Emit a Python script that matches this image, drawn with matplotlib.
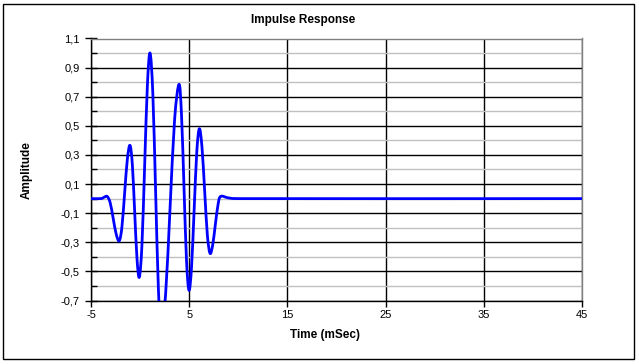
import numpy as np
import matplotlib
matplotlib.use('Agg')
import matplotlib.pyplot as plt
from matplotlib.ticker import FixedLocator
from matplotlib.patches import Rectangle, PathPatch
from matplotlib.path import Path

plt.rcParams['font.family'] = ['Liberation Sans', 'DejaVu Sans']
plt.rcParams['axes.unicode_minus'] = False

# impulse response (time in ms, amplitude)
time_ms = [-5.0, -4.0, -3.7, -3.35, -3.04, -2.735, -2.43, -2.12,
           -1.85, -1.575, -1.30, -1.03, -0.79, -0.555, -0.32, -0.08,
           0.19, 0.465, 0.74, 1.01, 1.295, 1.58, 1.865, 2.15,
           2.60, 3.055, 3.51, 3.96, 4.215, 4.47, 4.725, 4.98,
           5.24, 5.505, 5.77, 6.03, 6.30, 6.575, 6.85, 7.12,
           7.39, 7.66, 7.93, 8.2, 9.0, 10.0, 45.0]
amplitude = [0.0, 0.0, 0.008, 0.015, -0.030, -0.138, -0.245, -0.29,
             -0.194, 0.038, 0.270, 0.366, 0.234, -0.087, -0.408, -0.54,
             -0.315, 0.23, 0.775, 1.0, 0.723, 0.05, -0.623, -0.9,
             -0.654, -0.058, 0.539, 0.785, 0.578, 0.078, -0.423, -0.63,
             -0.468, -0.075, 0.318, 0.48, 0.355, 0.052, -0.251, -0.376,
             -0.319, -0.18, -0.044, 0.015, 0.005, 0.0, 0.0]

y_ticks = [1.1, 0.9, 0.7, 0.5, 0.3, 0.1, -0.1, -0.3, -0.5, -0.7]
y_labels = ['1,1', '0,9', '0,7', '0,5', '0,3', '0,1', '-0,1', '-0,3', '-0,5', '-0,7']
y_minor = [1.0, 0.8, 0.6, 0.4, 0.2, 0.0, -0.2, -0.4, -0.6]
x_ticks = [-5, 5, 15, 25, 35, 45]


def smooth_path(x, y, tension=1/6):
    # smoothed line like a spreadsheet chart: Bezier segments through the points
    x = np.asarray(x, float)
    y = np.asarray(y, float)
    verts = [(x[0], y[0])]
    codes = [Path.MOVETO]
    n = len(x)
    for i in range(n - 1):
        i0 = max(i - 1, 0)
        i3 = min(i + 2, n - 1)
        c1 = (x[i] + (x[i + 1] - x[i0]) * tension, y[i] + (y[i + 1] - y[i0]) * tension)
        c2 = (x[i + 1] - (x[i3] - x[i]) * tension, y[i + 1] - (y[i3] - y[i]) * tension)
        # keep control points inside the segment's time span
        c1 = (min(max(c1[0], x[i]), x[i + 1]), c1[1])
        c2 = (min(max(c2[0], x[i]), x[i + 1]), c2[1])
        verts += [c1, c2, (x[i + 1], y[i + 1])]
        codes += [Path.CURVE4] * 3
    return Path(verts, codes)


fig = plt.figure(figsize=(6.39, 3.64), dpi=100)
ax = fig.add_axes([91/639, 1-300.5/364, 491/639, 262/364])

ax.set_xlim(-5, 45)
ax.set_ylim(-0.7, 1.1)

ax.yaxis.set_major_locator(FixedLocator(y_ticks))
ax.set_yticklabels(y_labels)
ax.yaxis.set_minor_locator(FixedLocator(y_minor))
ax.set_xticks(x_ticks)

ax.grid(which='major', axis='y', color='black', linewidth=1.0)
ax.grid(which='minor', axis='y', color='#c0c0c0', linewidth=1.0)
ax.grid(which='major', axis='x', color='black', linewidth=1.0)
ax.set_axisbelow(True)

ax.add_patch(PathPatch(smooth_path(time_ms, amplitude), facecolor='none',
                       edgecolor='#0000ff', linewidth=2.0, capstyle='round',
                       joinstyle='round', zorder=3))

for s in ['left', 'bottom']:
    ax.spines[s].set_color('black')
    ax.spines[s].set_linewidth(1.0)
for s in ['top', 'right']:
    ax.spines[s].set_color('#808080')
    ax.spines[s].set_linewidth(1.0)

ax.tick_params(axis='y', which='major', direction='inout', length=8, width=1,
               labelsize=8, pad=4)
ax.tick_params(axis='y', which='minor', direction='in', length=4, width=1)
ax.tick_params(axis='x', which='major', direction='out', length=4, width=1,
               labelsize=8, pad=3)

fig.text(303/639, 1-20/364, 'Impulse Response', fontsize=8.5, fontweight='bold',
         ha='center', va='center')
fig.text(27/639, 1-170/364, 'Amplitude', fontsize=8.5, fontweight='bold',
         rotation=90, ha='center', va='center')
fig.text(325/639, 1-335/364, 'Time (mSec)', fontsize=8.5, fontweight='bold',
         ha='center', va='center')

fig.patches.append(Rectangle((2.5/639, 1-358.5/364), 631/639, 355/364,
                             transform=fig.transFigure, fill=False,
                             edgecolor='black', linewidth=1.0))

fig.savefig('out.png', dpi=100)
